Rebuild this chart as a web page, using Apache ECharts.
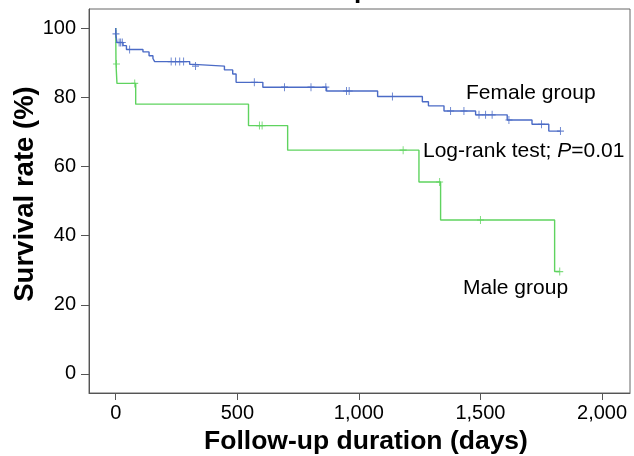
<!DOCTYPE html>
<html>
<head>
<meta charset="utf-8">
<script src="https://cdn.jsdelivr.net/npm/echarts@6/dist/echarts.min.js"></script>
<style>html,body{margin:0;padding:0;background:#fff}#c{width:634px;height:456px}</style>
</head>
<body>
<div id="c"></div>
<script>
// Female group: [day, survival %] after each event (step function)
var femaleSteps = [[0,100],[0,98.3],[5,95.8],[30,94.9],[44,93.8],[112,93.1],[137,92.0],[153,91.2],[160,90.3],[304,89.5],[322,89.0],[447,87.9],[481,86.7],[495,84.3],[605,82.9],[867,81.8],[1077,80.2],[1261,78.7],[1286,77.5],[1350,76.0],[1480,74.9],[1610,73.4],[1712,72.2],[1781,70.2],[1829,70.2]];
var femaleCensored = [[1,98.3],[14,95.8],[20,95.8],[27,95.8],[57,93.8],[228,90.3],[246,90.3],[263,90.3],[279,90.3],[328,89.0],[570,84.3],[694,82.9],[803,82.9],[864,82.9],[949,81.8],[960,81.8],[1138,80.2],[1377,76.0],[1432,76.0],[1494,74.9],[1521,74.9],[1548,74.9],[1617,73.4],[1751,72.2],[1829,70.2]];
// Male group
var maleSteps = [[0,100],[1,89.6],[5,84.0],[82,78.0],[546,71.8],[707,64.7],[1247,55.5],[1336,44.5],[1805,29.6],[1826,29.6]];
var maleCensored = [[3,89.6],[78,84.0],[591,71.8],[602,71.8],[1182,64.7],[1332,55.5],[1500,44.5],[1826,29.6]];
// Tick labels
var xTicks = [0,500,1000,1500,2000];
var yTicks = [0,20,40,60,80,100];

var FONT = 'Liberation Sans, Arial, sans-serif';
var BLUE = '#4b6bc6', GREEN = '#5fd35f';
var PLUS = 'path://M4.3,0H5.7V4.3H10V5.7H5.7V10H4.3V5.7H0V4.3H4.3Z';

var chart = echarts.init(document.getElementById('c'), null, {renderer:'canvas'});
chart.setOption({
  animation: false,
  grid: {left: 89, right: 4, top: 9, bottom: 63, show: true, borderColor: '#666', borderWidth: 1, backgroundColor: 'transparent'},
  xAxis: {
    type: 'value', min: -110, max: 2115,
    axisLine: {show: true, onZero: false, lineStyle: {color: '#555', width: 1}},
    axisTick: {show: true, customValues: xTicks, length: 7, lineStyle: {color: '#555'}},
    axisLabel: {customValues: xTicks, margin: 10, color: '#000', fontSize: 20, fontFamily: FONT,
      formatter: function (v) { return v.toLocaleString('en-US'); }},
    splitLine: {show: false}
  },
  yAxis: {
    type: 'value', min: -5.5, max: 105.5,
    axisLine: {show: true, onZero: false, lineStyle: {color: '#555', width: 1}},
    axisTick: {show: true, customValues: yTicks, length: 8, lineStyle: {color: '#555'}},
    axisLabel: {customValues: yTicks, margin: 13, color: '#000', fontSize: 20, fontFamily: FONT},
    splitLine: {show: false}
  },
  series: [
    {type: 'line', step: 'end', data: maleSteps, showSymbol: false, lineStyle: {color: GREEN, width: 1.4}, z: 2},
    {type: 'scatter', data: maleCensored, symbol: PLUS, symbolSize: [7, 8], itemStyle: {color: GREEN}, z: 3},
    {type: 'line', step: 'end', data: femaleSteps, showSymbol: false, lineStyle: {color: BLUE, width: 1.4}, z: 4},
    {type: 'scatter', data: femaleCensored, symbol: PLUS, symbolSize: [7, 8], itemStyle: {color: BLUE}, z: 5}
  ],
  graphic: [
    {type: 'text', left: 354, top: -22, style: {text: 'p', font: 'bold 26px ' + FONT, fill: '#000'}},
    {type: 'text', x: 466, y: 93, style: {text: 'Female group', font: '21px ' + FONT, fill: '#000', verticalAlign: 'middle', align: 'left'}},
    {type: 'text', x: 423, y: 151, style: {text: 'Log-rank test; {i|P}=0.01', font: '21px ' + FONT, fill: '#000', verticalAlign: 'middle', align: 'left',
      rich: {i: {fontStyle: 'italic', fontSize: 21, fontFamily: FONT, fill: '#000'}}}},
    {type: 'text', x: 463, y: 288, style: {text: 'Male group', font: '21px ' + FONT, fill: '#000', verticalAlign: 'middle', align: 'left'}},
    {type: 'text', x: 366, y: 442, style: {text: 'Follow-up duration (days)', font: 'bold 26.5px ' + FONT, fill: '#000', verticalAlign: 'middle', align: 'center'}},
    {type: 'text', x: 25.5, y: 194, rotation: Math.PI / 2, style: {text: 'Survival rate (%)', font: 'bold 27.5px ' + FONT, fill: '#000', verticalAlign: 'middle', align: 'center'}}
  ]
});
</script>
</body>
</html>
